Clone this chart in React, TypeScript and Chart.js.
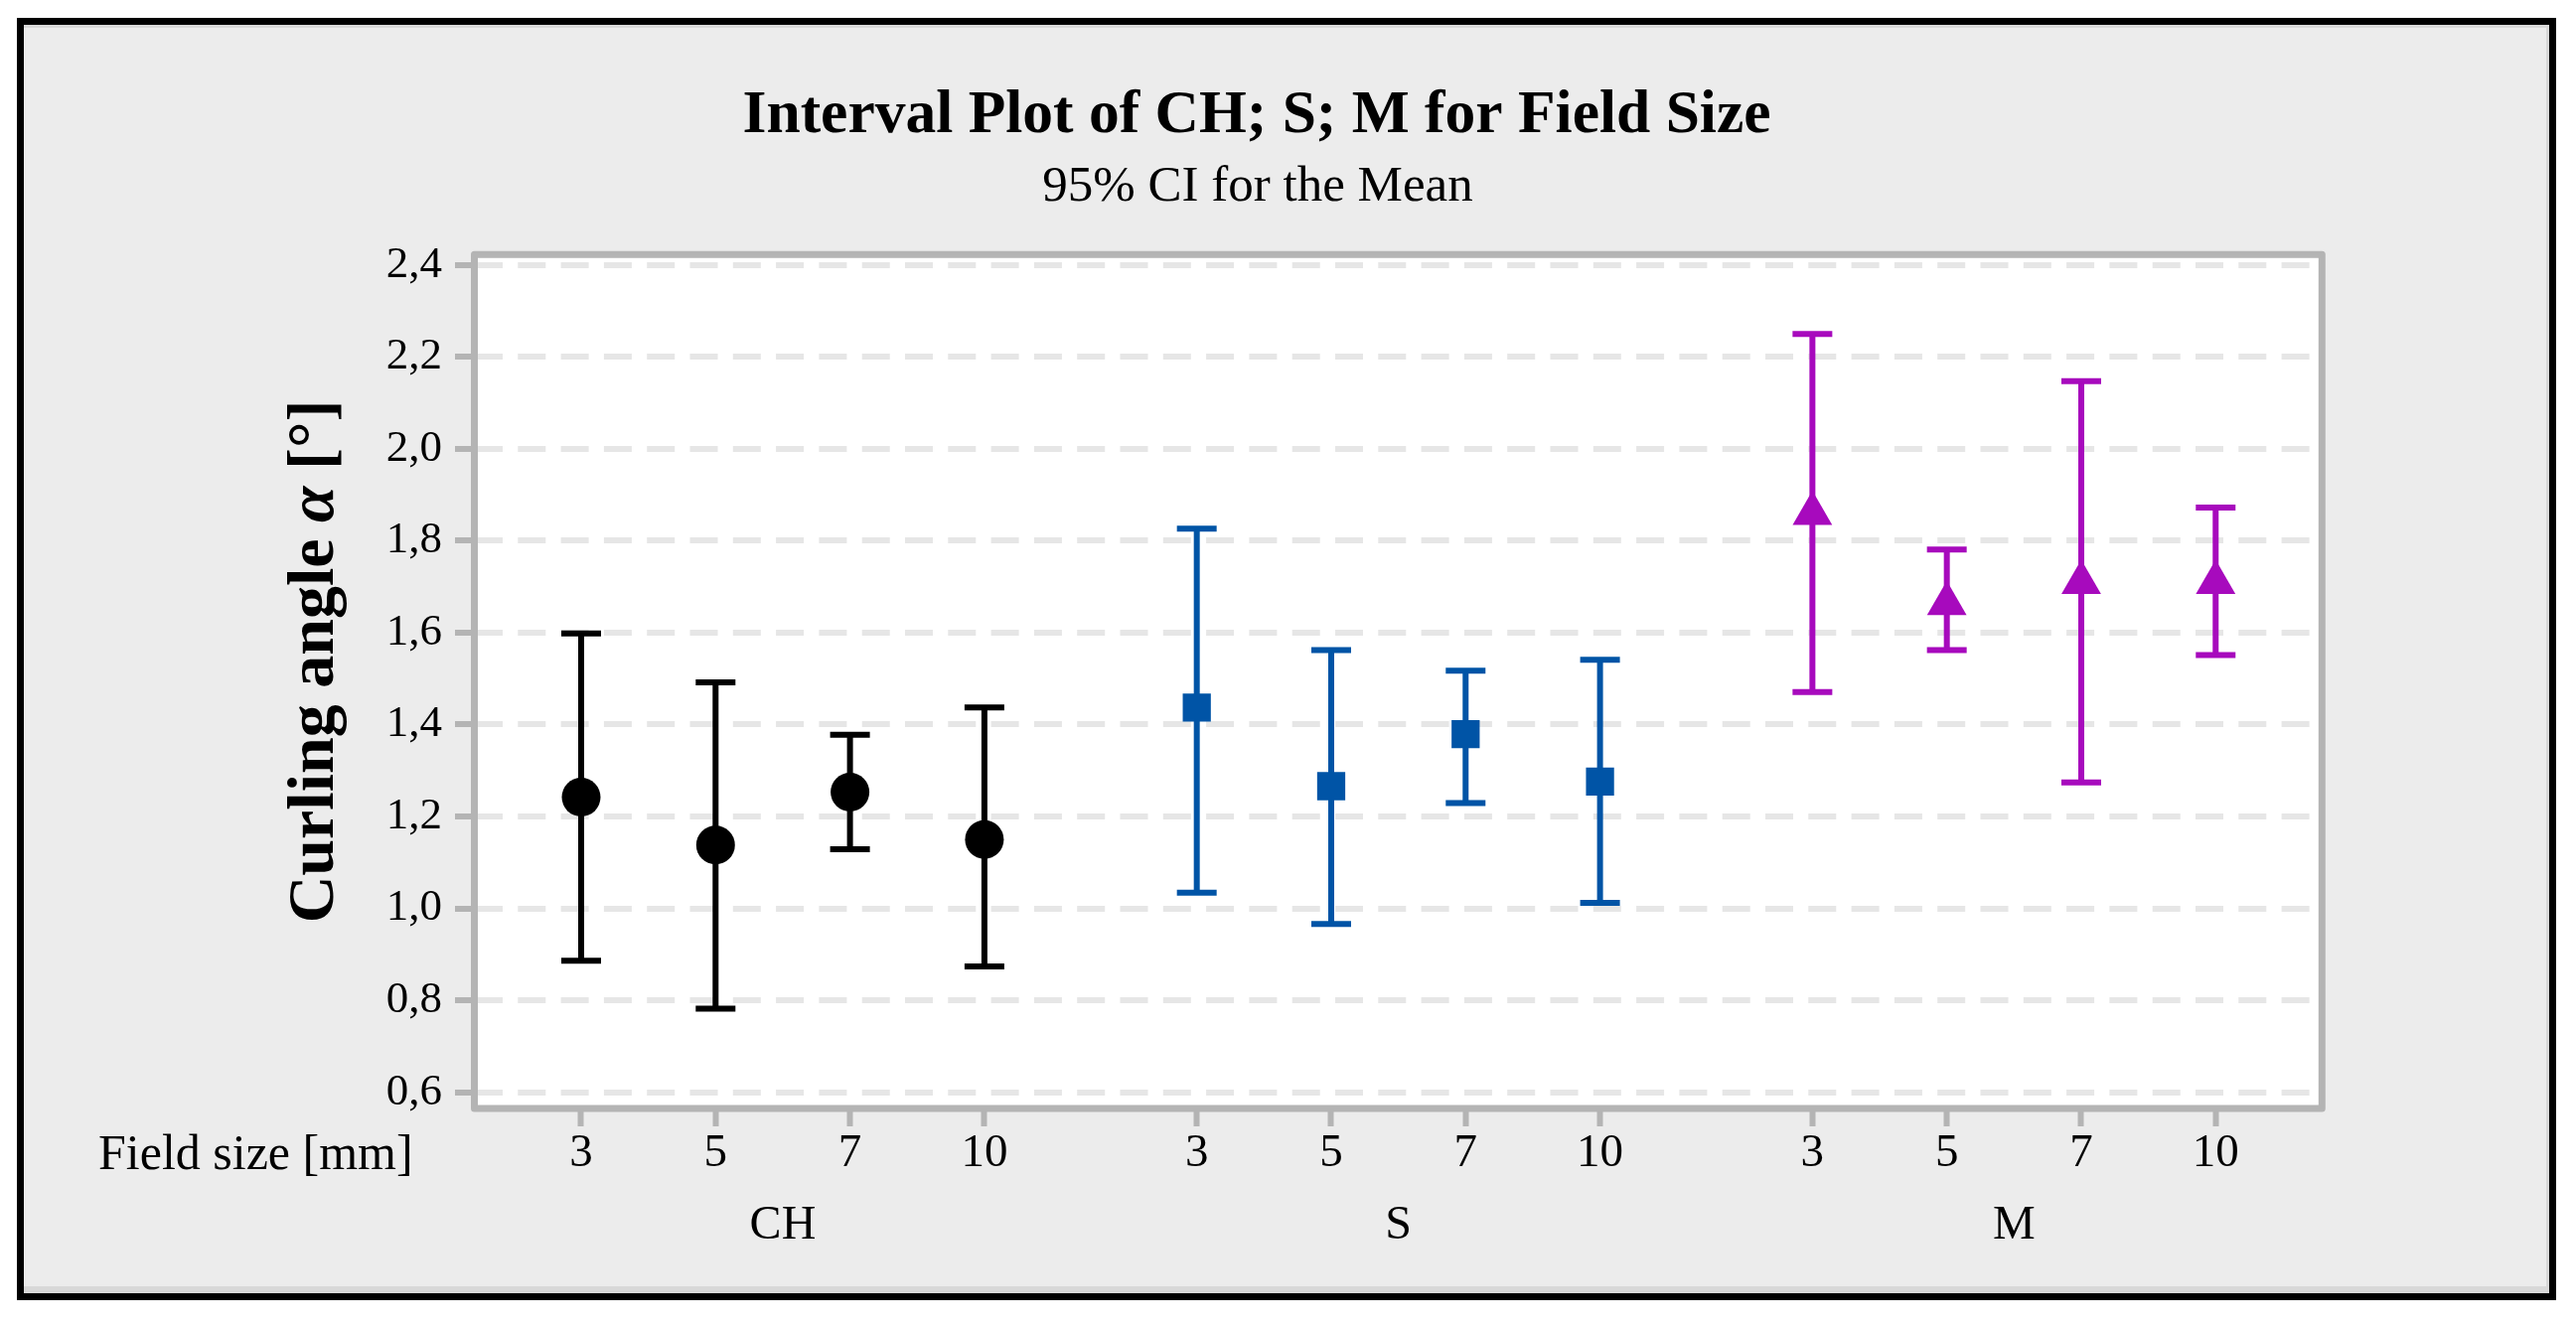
import React, { useEffect, useRef } from 'react';
import { Chart, registerables } from 'chart.js';

Chart.register(...registerables);

// ---- data ----
const groupNames = ['CH', 'S', 'M'];
const fieldSizeLabels = ['3', '5', '7', '10'];
const yTickValues = [0.6, 0.8, 1.0, 1.2, 1.4, 1.6, 1.8, 2.0, 2.2, 2.4];

const chLow = [0.886, 0.782, 1.129, 0.874];
const chMean = [1.242, 1.138, 1.253, 1.150];
const chHigh = [1.598, 1.492, 1.378, 1.437];

const sLow = [1.034, 0.966, 1.229, 1.012];
const sMean = [1.437, 1.266, 1.379, 1.276];
const sHigh = [1.826, 1.562, 1.517, 1.541];

const mLow = [1.471, 1.562, 1.274, 1.551];
const mMean = [1.859, 1.663, 1.709, 1.709];
const mHigh = [2.250, 1.781, 2.147, 1.872];

// ---- layout / style ----
const SERIF = "'Liberation Serif', 'Times New Roman', serif";
const GROUP_GAP = 1.58;
const xOf = (g: number, i: number) => 1 + g * (3 + GROUP_GAP) + i;
const colors = ['#000000', '#0054a6', '#a70abd'];
const markers = ['circle', 'rect', 'triangle'];
const markerRadius = [19.5, 20, 23];

const CANVAS_W = 2542;
const CANVAS_H = 1277;

const textPlugin = {
  id: 'textPlugin',
  afterDraw(chart: any) {
    const ctx = chart.ctx as CanvasRenderingContext2D;
    ctx.save();
    ctx.fillStyle = '#000';
    ctx.textAlign = 'center';
    ctx.textBaseline = 'alphabetic';
    ctx.font = `bold 61.5px ${SERIF}`;
    ctx.fillText('Interval Plot of CH; S; M for Field Size', 1241, 108);
    ctx.font = `51px ${SERIF}`;
    ctx.fillText('95% CI for the Mean', 1242, 177);

    ctx.textAlign = 'left';
    ctx.font = `50px ${SERIF}`;
    ctx.fillText('Field size [mm]', 75, 1152);

    // rotated y-axis title with italic alpha
    const parts = [
      { t: 'Curling angle ', f: `bold 66px ${SERIF}` },
      { t: 'α', f: `italic bold 66px ${SERIF}` },
      { t: ' [°]', f: `bold 66px ${SERIF}` },
    ];
    let total = 0;
    const widths = parts.map((p) => {
      ctx.font = p.f;
      const w = ctx.measureText(p.t).width;
      total += w;
      return w;
    });
    ctx.translate(311, 641);
    ctx.rotate(-Math.PI / 2);
    let x = -total / 2;
    parts.forEach((p, i) => {
      ctx.font = p.f;
      ctx.fillText(p.t, x, 0);
      x += widths[i];
    });
    ctx.restore();
  },
};

const framePlugin = {
  id: 'framePlugin',
  beforeDraw(chart: any) {
    const { ctx, chartArea } = chart;
    ctx.save();
    ctx.fillStyle = '#ffffff';
    ctx.fillRect(chartArea.left, chartArea.top, chartArea.right - chartArea.left, chartArea.bottom - chartArea.top);
    ctx.restore();
  },
  afterDraw(chart: any) {
    const { ctx, chartArea } = chart;
    ctx.save();
    ctx.strokeStyle = '#b4b4b4';
    ctx.lineWidth = 7;
    ctx.lineJoin = 'round';
    ctx.strokeRect(chartArea.left, chartArea.top, chartArea.right - chartArea.left, chartArea.bottom - chartArea.top);
    ctx.restore();
  },
};

export default function App() {
  const ref = useRef<HTMLCanvasElement | null>(null);

  useEffect(() => {
    if (!ref.current) return;
    const series = [
      { low: chLow, mean: chMean, high: chHigh },
      { low: sLow, mean: sMean, high: sHigh },
      { low: mLow, mean: mMean, high: mHigh },
    ];
    const datasets: any[] = [];
    series.forEach((s, g) => {
      const col = colors[g];
      const bars: any[] = [];
      s.low.forEach((lo, i) => {
        const x = xOf(g, i);
        bars.push({ x, y: lo }, { x, y: s.high[i] }, { x, y: null });
      });
      datasets.push({
        data: bars,
        showLine: true,
        spanGaps: false,
        borderColor: col,
        borderWidth: 6,
        pointRadius: 0,
        order: 3,
      });
      const caps: any[] = [];
      s.low.forEach((lo, i) => caps.push({ x: xOf(g, i), y: lo }, { x: xOf(g, i), y: s.high[i] }));
      datasets.push({
        data: caps,
        showLine: false,
        pointStyle: 'line',
        pointRadius: 20,
        pointBorderWidth: 6,
        pointBorderColor: col,
        pointBackgroundColor: col,
        order: 2,
      });
      datasets.push({
        data: s.mean.map((m, i) => ({ x: xOf(g, i), y: m })),
        showLine: false,
        pointStyle: markers[g],
        pointRadius: markerRadius[g],
        pointBorderWidth: 0,
        pointBorderColor: col,
        pointBackgroundColor: col,
        order: 1,
      });
    });

    const xTickVals: number[] = [];
    groupNames.forEach((_, g) => fieldSizeLabels.forEach((__, i) => xTickVals.push(xOf(g, i))));
    const groupCenters = groupNames.map((_, g) => xOf(g, 1.5));
    const xMin = 0.2055;
    const xMax = 13.951;

    const chart = new Chart(ref.current, {
      type: 'scatter',
      data: { datasets },
      plugins: [framePlugin, textPlugin],
      options: {
        animation: false,
        responsive: false,
        devicePixelRatio: 1,
        events: [],
        layout: { padding: { left: 0, top: 231.3, right: 228.7, bottom: 0 } },
        plugins: {
          legend: { display: false },
          tooltip: { enabled: false },
          title: { display: false },
        },
        scales: {
          x: {
            type: 'linear',
            position: 'bottom',
            weight: 0,
            min: xMin,
            max: xMax,
            afterBuildTicks: (scale: any) => {
              scale.ticks = xTickVals.map((v) => ({ value: v }));
            },
            afterFit: (scale: any) => {
              scale.height = 94;
            },
            ticks: {
              autoSkip: false,
              maxRotation: 0,
              minRotation: 0,
              padding: 4,
              color: '#000',
              font: { family: SERIF, size: 47, lineHeight: 1 },
              callback: (_v: any, i: number) => fieldSizeLabels[i % fieldSizeLabels.length],
            },
            grid: {
              drawOnChartArea: false,
              drawTicks: true,
              tickLength: 18,
              tickWidth: 6,
              tickColor: '#b4b4b4',
            },
            border: { display: false },
          },
          xg: {
            type: 'linear',
            position: 'bottom',
            weight: 1,
            min: xMin,
            max: xMax,
            afterBuildTicks: (scale: any) => {
              scale.ticks = groupCenters.map((v) => ({ value: v }));
            },
            afterFit: (scale: any) => {
              scale.height = 92;
            },
            ticks: {
              autoSkip: false,
              maxRotation: 0,
              minRotation: 0,
              padding: 0,
              color: '#000',
              font: { family: SERIF, size: 48, lineHeight: 1 },
              callback: (_v: any, i: number) => groupNames[i],
            },
            grid: { display: false, drawTicks: false, tickLength: 0 },
            border: { display: false },
          },
          y: {
            type: 'linear',
            min: 0.5648,
            max: 2.4225,
            afterBuildTicks: (scale: any) => {
              scale.ticks = yTickValues.map((v) => ({ value: v }));
            },
            afterFit: (scale: any) => {
              scale.width = 453.5;
            },
            ticks: {
              autoSkip: false,
              padding: 13,
              color: '#000',
              font: { family: SERIF, size: 45, lineHeight: 1 },
              callback: (v: any) => Number(v).toFixed(1).replace('.', ','),
            },
            grid: {
              color: '#e6e6e6',
              lineWidth: 6,
              drawTicks: true,
              tickLength: 19.5,
              tickWidth: 6,
              tickColor: '#b4b4b4',
            },
            border: { display: false, dash: [28, 15.3] },
          },
        },
      } as any,
    });
    return () => chart.destroy();
  }, []);

  return (
    <div
      style={{
        position: 'absolute',
        left: 17,
        top: 18,
        width: 2556,
        height: 1291,
        boxSizing: 'border-box',
        border: '7px solid #000',
        background: '#ececec',
        boxShadow: 'inset 0 3px 0 #dadada, inset 0 -7px 0 #d8d8d8, inset -3px 0 0 #d8d8d8',
      }}
    >
      <canvas ref={ref} width={CANVAS_W} height={CANVAS_H} style={{ display: 'block' }} />
    </div>
  );
}
